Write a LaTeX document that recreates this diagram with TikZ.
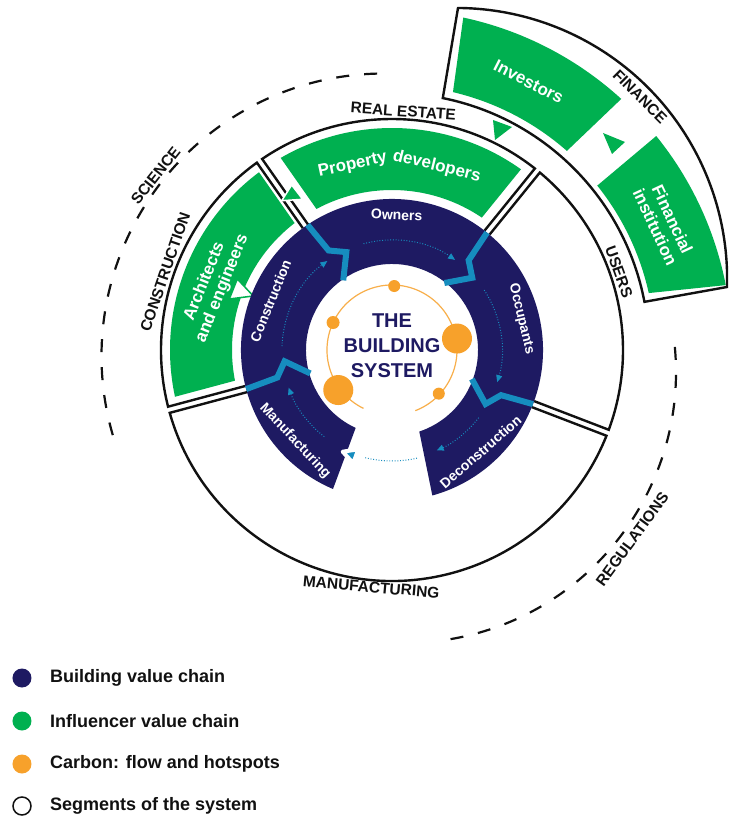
\documentclass[tikz,border=0pt]{standalone}
\usepackage{fontspec}
\setmainfont{Liberation Sans}
\usetikzlibrary{arrows.meta}
\definecolor{navy}{HTML}{1E1A62}
\definecolor{leaf}{HTML}{00B050}
\definecolor{carbon}{HTML}{F7A12B}
\definecolor{flow}{HTML}{168DBF}
\definecolor{ink}{HTML}{111111}
\tikzset{ringtext/.style={text=white,font=\bfseries\fontsize{14}{16}\selectfont,inner sep=0pt},
  paneltext/.style={text=white,font=\bfseries\fontsize{17}{19}\selectfont,align=center,inner sep=0pt},
  segtext/.style={text=ink,font=\bfseries\fontsize{15.5}{17}\selectfont,inner sep=0pt},
  segline/.style={ink,line width=2.4pt,line join=miter},
  boltline/.style={flow,line width=6pt,line join=miter},
  flowdots/.style={flow,line width=1pt,dash pattern=on 0.9pt off 1.8pt},
  flowarrow/.style={flowdots,-{Triangle[length=7pt,width=6pt]}},
  hotspot/.style={circle,fill=carbon,inner sep=0pt},
  dashring/.style={ink,line width=2.2pt,dash pattern=on 13pt off 15pt},
  keydot/.style={circle,inner sep=0pt,minimum size=19pt},
  keytext/.style={anchor=west,text=ink,font=\bfseries\fontsize{18}{20}\selectfont,inner sep=0pt}}
% green panel between two separators: angle, offset, angle, offset, inner r, outer r
\newcommand{\greenpanel}[6]{%
  \fill[leaf] ({#1+asin(#2/#5)}:#5pt) -- ({#1+asin(#2/#6)}:#6pt)
    arc[start angle={#1+asin(#2/#6)},end angle={#3-asin(#4/#6)},radius=#6pt]
    -- ({#3-asin(#4/#5)}:#5pt)
    arc[start angle={#3-asin(#4/#5)},end angle={#1+asin(#2/#5)},radius=#5pt] -- cycle;}

\begin{document}
\begin{tikzpicture}[x=1pt,y=1pt]
  \useasboundingbox (-392,-468) rectangle (336,350);
  \clip (-392,-468) rectangle (336,350);
  \fill[white] (-392,-468) rectangle (336,350);

  % outer dashed influences
  \draw[dashring] ([shift={(-8,-6)}]91.4:282.5pt) arc[start angle=91.4,end angle=197,radius=282.5pt];
  \draw[dashring] ([shift={(13,-22)}]5.3:271pt) arc[start angle=5.3,end angle=-82.6,radius=271pt];

  % segments of the system
  \foreach \a/\b in {125/195,51/125,-21/51,195/339}
    \draw[segline] ({\a+asin(3.2/151)}:151pt) -- ({\a+asin(3.2/231)}:231pt)
      arc[start angle={\a+asin(3.2/231)},end angle={\b-asin(3.2/231)},radius=231pt]
      -- ({\b-asin(3.2/151)}:151pt);

  % influencer panels
  \greenpanel{125}{7}{195}{11}{160}{222}
  \greenpanel{51}{13.5}{125}{19}{160}{222}
  \draw[segline] (66,342) -- (78.6:257pt) arc[start angle=78.6,end angle=10.8,radius=257pt]
    -- (335,63) arc[start angle=-1.7,end angle=89.6,radius=271pt] -- cycle;
  \fill[leaf] (76.7:265pt) -- (77.9:340pt) arc[start angle=77.9,end angle=47.6,radius=340pt]
    -- (48.7:265pt) arc[start angle=48.7,end angle=76.7,radius=265pt] -- cycle;
  \fill[leaf] (38.7:265pt) -- (39:340pt) arc[start angle=39,end angle=11,radius=340pt]
    -- (12.5:263pt) arc[start angle=12.5,end angle=38.7,radius=263pt] -- cycle;
  \fill[leaf] (101,230) -- (120,223) -- (103,210) -- cycle;
  \fill[leaf] (211,217) -- (233,208) -- (220,196) -- cycle;
  \filldraw[fill=leaf,draw=white,line width=1.5pt] (-110.3,149.3) -- (-100.3,165) -- (-89.3,150.7) -- cycle;
  \filldraw[fill=white,draw=leaf,line width=1.5pt] (-154.7,71) -- (-162.7,51) -- (-138.7,54) -- cycle;

  % building value chain
  \fill[navy] (-74.5:151pt) arc[start angle=-74.5,end angle=247,radius=151pt]
    -- (245:86pt) arc[start angle=245,end angle=-71.5,radius=86pt] -- cycle;
  \foreach \t in {124,51,-21,195}
    \draw[boltline] (\t:151pt) -- ({\t-1.5}:118pt) -- ({\t-9}:108pt) -- ({\t+1}:85pt);
  \foreach \s/\e in {105/55,33/-17,-38/-66,232/200,178/126}
    \draw[flowarrow] (\s:110pt) arc[start angle=\s,end angle=\e,radius=110pt];
  \draw[flowdots] (-77:111pt) arc[start angle=-77,end angle=-104,radius=111pt];
  \filldraw[fill=flow,draw=white,line width=4pt,line join=round] (-49.3,-101.7) -- (-33.7,-99.3) -- (-38.7,-113.3) -- cycle;

  \node[ringtext,rotate=-2] (owners) at (88:135pt) {Owners};
  \node[ringtext,rotate=-76.5] (occupants) at (13.5:133pt) {Occupants};
  \node[ringtext,rotate=41] (decon) at (-49:135pt) {Deconstruction};
  \node[ringtext,rotate=-46.8] (manuf) at (-136.8:133pt) {Manufacturing};
  \node[ringtext,rotate=68] (constr) at (158:131pt) {Construction};

  % carbon
  \draw[carbon!85,line width=1.2pt] (-69:65pt) arc[start angle=-69,end angle=244,radius=65pt];
  \node[hotspot,minimum size=12pt] (h1) at (88:64pt) {};
  \node[hotspot,minimum size=13pt] (h2) at (155:65pt) {};
  \node[hotspot,minimum size=30pt] (h3) at (10:66pt) {};
  \node[hotspot,minimum size=30pt] (h4) at (216.7:67pt) {};
  \node[hotspot,minimum size=12pt] (h5) at (-43:64pt) {};
  \node[text=navy,font=\bfseries\fontsize{20}{25}\selectfont,align=center] (title) at (0,4) {THE\\BUILDING\\SYSTEM};

  % panel labels
  \node[paneltext,rotate=68] (arch) at (160:190pt) {Architects\\and engineers};
  \node[paneltext,rotate=12] (prop) at (102:189pt) {Property};
  \node[paneltext,rotate=-13.7] (devs) at (76.3:189pt) {developers};
  \node[paneltext,rotate=-27] (inv) at (63:301pt) {Investors};
  \node[paneltext,rotate=-65] (fin) at (25:300pt) {Financial\\institution};

  % segment labels
  \node[segtext,rotate=71] (sconstr) at (161:240pt) {CONSTRUCTION};
  \node[segtext,rotate=-4] (sreal) at (87.3:239pt) {REAL ESTATE};
  \node[segtext,rotate=-70] (susers) at (19:240pt) {USERS};
  \node[segtext,rotate=-5] (smanuf) at (-95:238pt) {MANUFACTURING};
  \node[segtext,rotate=-45] (sfin) at ([shift={(64,71)}]44.7:259pt) {FINANCE};
  \node[segtext,rotate=51.7] (ssci) at ([shift={(-8,-6)}]141.7:291pt) {SCIENCE};
  \node[segtext,rotate=53.7] (sreg) at ([shift={(13,-22)}]-36.3:282pt) {REGULATIONS};

  % legend
  \node[keydot,fill=navy] (k1) at (-370,-328) {};
  \node[keydot,fill=leaf] (k2) at (-370,-371) {};
  \node[keydot,fill=carbon] (k3) at (-370,-414) {};
  \node[keydot,draw=ink,line width=1.5pt,minimum size=18pt] (k4) at (-370,-456) {};
  \node[keytext] (t1) at (-342,-328) {Building value chain};
  \node[keytext] (t2) at (-342,-371) {Influencer value chain};
  \node[keytext] (t3) at (-342,-414) {Carbon: flow and hotspots};
  \node[keytext] (t4) at (-342,-456) {Segments of the system};
\end{tikzpicture}
\end{document}
